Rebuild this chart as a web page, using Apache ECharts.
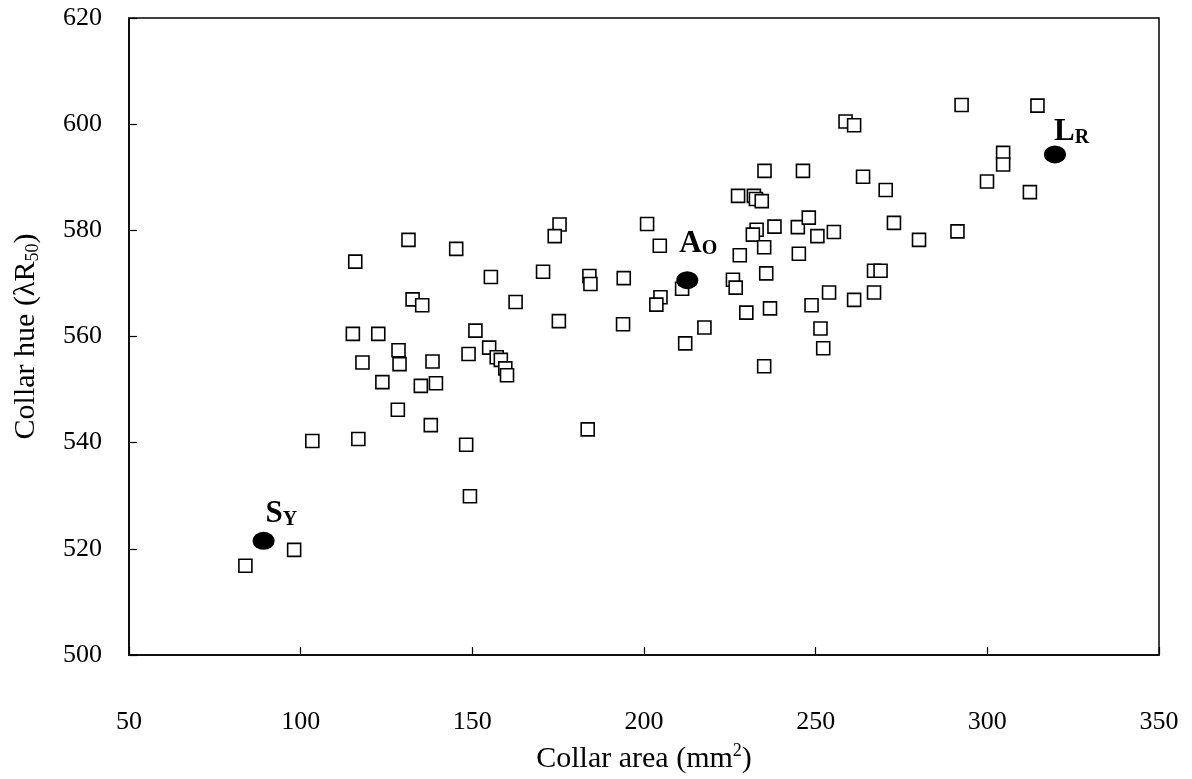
<!DOCTYPE html>
<html>
<head>
<meta charset="utf-8">
<script src="https://cdn.jsdelivr.net/npm/echarts@6/dist/echarts.min.js"></script>
<style>html,body{margin:0;padding:0;background:#fff;}#c{width:1192px;height:779px;}</style>
</head>
<body>
<div id="c"></div>
<script>
// Collar area (mm²) of individual specimens
const areaX = [131.4,115.9,145.3,155.4,132.6,135.4,150.9,115.2,122.6,128.5,118.0,128.8,138.4,148.9,
  154.9,157.1,158.3,159.6,160.1,123.8,135.0,139.4,128.3,137.9,103.4,116.8,148.2,149.3,98.1,83.9,
  235.1,246.3,227.4,232.0,232.6,234.3,175.4,174.0,200.9,204.6,232.8,238.0,231.7,244.8,248.0,250.5,
  255.3,227.9,235.0,245.1,170.6,184.1,184.4,194.1,211.1,225.9,226.7,235.6,162.6,204.8,203.6,229.8,
  236.7,248.8,253.9,175.2,193.9,217.6,212.0,251.4,252.2,235.0,183.6,292.5,314.6,258.7,261.2,304.6,
  304.6,299.9,312.4,263.8,270.4,272.8,280.1,291.3,267.0,268.9,261.2,267.0];
// Collar hue (λR50) of individual specimens
const hueY = [578.2,574.1,576.5,571.2,567.0,565.9,561.1,560.5,560.5,557.4,555.1,554.8,555.3,556.7,
  557.9,556.1,555.6,554.0,552.7,551.4,550.7,551.2,546.2,543.3,540.3,540.7,539.6,529.9,519.8,516.8,
  591.2,591.2,586.5,586.5,585.9,585.5,581.1,578.9,581.2,577.1,580.1,580.7,579.2,580.6,582.4,578.9,
  579.7,575.3,576.8,575.6,572.2,571.4,569.9,571.0,569.0,570.7,569.2,571.9,566.5,567.4,566.0,564.5,
  565.3,565.9,568.3,562.9,562.3,561.7,558.7,561.5,557.8,554.4,542.5,603.6,603.5,600.5,599.8,594.6,
  592.4,589.2,587.2,590.1,587.6,581.4,578.2,579.8,572.4,572.4,566.9,568.3];
// Reference morphs (filled circles)
const morphMain = ['S','A','L'];
const morphSub = ['Y','O','R'];
const morphX = [89.2,212.6,319.7];
const morphY = [521.5,570.6,594.3];
const xTicks = [50,100,150,200,250,300,350];
const yTicks = [500,520,540,560,580,600,620];

const serif = '"Liberation Serif","DejaVu Serif",serif';
const squares = areaX.map((x,i)=>[x,hueY[i]]);
const labelPos = [[13,-2],[3,-12],[10,2]];
const morphs = morphX.map((x,i)=>({
  value:[x,morphY[i]],
  label:{show:true,position:labelPos[i],align:'left',verticalAlign:'bottom',
    formatter:'{a|'+morphMain[i]+'}{b|'+morphSub[i]+'}'}
}));

const chart = echarts.init(document.getElementById('c'));
chart.setOption({
  animation:false,
  backgroundColor:'#fff',
  grid:{left:129,right:33,top:18,bottom:121,show:true,borderColor:'#000',borderWidth:1.5,backgroundColor:'transparent'},
  xAxis:{type:'value',min:xTicks[0],max:xTicks[xTicks.length-1],interval:50,
    name:'Collar area (mm{sup|2})',nameLocation:'middle',nameGap:87,
    nameTextStyle:{fontFamily:serif,fontSize:30,color:'#000',rich:{sup:{fontFamily:serif,fontSize:18,color:'#000',padding:[0,0,16,0]}}},
    axisLine:{show:true,lineStyle:{color:'#000',width:1.5}},
    axisTick:{show:true,inside:true,length:8,lineStyle:{color:'#000',width:1.2}},
    axisLabel:{fontFamily:serif,fontSize:26,color:'#000',margin:54},
    splitLine:{show:false}},
  yAxis:{type:'value',min:yTicks[0],max:yTicks[yTicks.length-1],interval:20,
    name:'Collar hue (λR{sub|50})',nameLocation:'middle',nameGap:87,
    nameTextStyle:{fontFamily:serif,fontSize:30,color:'#000',rich:{sub:{fontFamily:serif,fontSize:18,color:'#000',padding:[14,0,0,0]}}},
    axisLine:{show:true,lineStyle:{color:'#000',width:1.5}},
    axisTick:{show:true,inside:true,length:8,lineStyle:{color:'#000',width:1.2}},
    axisLabel:{fontFamily:serif,fontSize:26,color:'#000',margin:27},
    splitLine:{show:false}},
  series:[
    {type:'scatter',data:squares,symbol:'rect',symbolSize:13,
      itemStyle:{color:'#fff',borderColor:'#000',borderWidth:1.6,opacity:1},z:2},
    {type:'scatter',data:morphs,symbol:'circle',symbolSize:[22,18],
      itemStyle:{color:'#000',opacity:1},z:3,
      label:{rich:{
        a:{fontFamily:serif,fontSize:31,fontWeight:'bold',color:'#000',verticalAlign:'bottom'},
        b:{fontFamily:serif,fontSize:20,fontWeight:'bold',color:'#000',verticalAlign:'bottom'}}}}
  ]
});
</script>
</body>
</html>
